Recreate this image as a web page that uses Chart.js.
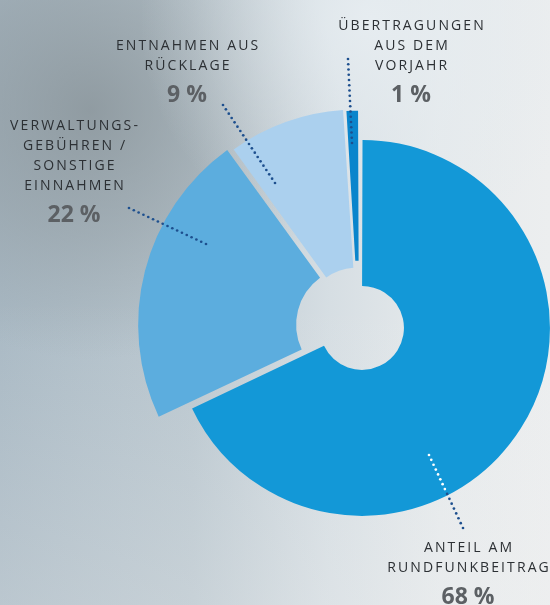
<!DOCTYPE html>
<html><head><meta charset="utf-8">
<script src="https://cdn.jsdelivr.net/npm/chart.js@4"></script>
<style>html,body{margin:0;padding:0;width:550px;height:605px;overflow:hidden;background:#c8d2d8}
#wrap{position:relative;width:550px;height:605px}</style>
</head><body><div id="wrap"><canvas id="c" width="550" height="605"></canvas></div>
<script>
// ---- data ----
const categories = ['Anteil am Rundfunkbeitrag', 'Verwaltungsgebühren / sonstige Einnahmen', 'Entnahmen aus Rücklage', 'Übertragungen aus dem Vorjahr'];
const shares = [68, 22, 9, 1];
const labelLines = [
  ['ANTEIL AM', 'RUNDFUNKBEITRAG'],
  ['VERWALTUNGS-', 'GEBÜHREN /', 'SONSTIGE', 'EINNAHMEN'],
  ['ENTNAHMEN AUS', 'RÜCKLAGE'],
  ['ÜBERTRAGUNGEN', 'AUS DEM', 'VORJAHR']
];
const percentLabels = shares.map(v => v + ' %');

// ---- styles / layout ----
const sliceColors = ['#1398d7', '#5cadde', '#abd0ee', '#0a85cc'];
const sliceOffsets = [14, 20, 27, 21];
const sliceOuter = [188, 216, 210, 210];
const sliceInner = [42, 58, 52, 60];
const labelLayout = [
  {x: 468, y: 547, pctY: 596},
  {x: 74, y: 125, pctY: 213.5},
  {x: 187, y: 45, pctY: 94},
  {x: 411, y: 25, pctY: 94}
];
const leaderLines = [
  [[429, 455], [463, 528]],
  [[129, 208], [206, 244]],
  [[223, 105], [275, 183]],
  [[348, 59], [352, 143]]
];

const bgPlugin = {
  id: 'bg',
  beforeDraw(chart) {
    const ctx = chart.ctx, w = chart.width, h = chart.height;
    ctx.save();
    let g = ctx.createLinearGradient(0, 0, w, 0);
    g.addColorStop(0, '#a9b9c4');
    g.addColorStop(0.35, '#bac7cf');
    g.addColorStop(0.6, '#d6dee3');
    g.addColorStop(0.8, '#e6eaec');
    g.addColorStop(1, '#eceeef');
    ctx.fillStyle = g; ctx.fillRect(0, 0, w, h);
    // dark top-left shade
    let r = ctx.createRadialGradient(90, 110, 0, 90, 110, 250);
    r.addColorStop(0, 'rgba(130,140,145,0.7)');
    r.addColorStop(0.5, 'rgba(135,145,150,0.4)');
    r.addColorStop(1, 'rgba(140,150,155,0)');
    ctx.fillStyle = r; ctx.fillRect(0, 0, w, h);
    // light top-center glow
    r = ctx.createRadialGradient(370, 20, 0, 370, 20, 230);
    r.addColorStop(0, 'rgba(232,238,242,0.85)');
    r.addColorStop(1, 'rgba(225,233,238,0)');
    ctx.fillStyle = r; ctx.fillRect(0, 0, w, h);
    // light bottom-right
    g = ctx.createLinearGradient(0, 300, 0, h);
    g.addColorStop(0, 'rgba(240,240,240,0)');
    g.addColorStop(1, 'rgba(240,240,240,0.25)');
    ctx.fillStyle = g; ctx.fillRect(0, 300, w, h - 300);
    ctx.restore();
  }
};

const radiiPlugin = {
  id: 'sliceRadii',
  beforeDatasetsDraw(chart) {
    const meta = chart.getDatasetMeta(0);
    meta.data.forEach((arc, i) => {
      const o = (arc.options.offset || 0) / 4;
      const fix = 1 - Math.sin(Math.min(Math.PI, arc.circumference || 0));
      const ro = o * fix;
      const sp = (arc.options.spacing || 0) / 2;
      arc.outerRadius = sliceOuter[i] - ro - sp;
      arc.innerRadius = sliceInner[i] - ro - sp;
    });
  }
};

function spacedText(ctx, text, cx, baseY, spacing) {
  const chars = [...text];
  const widths = chars.map(ch => ctx.measureText(ch).width);
  const total = widths.reduce((a, b) => a + b, 0) + spacing * (chars.length - 1);
  let x = cx - total / 2;
  ctx.textAlign = 'left';
  ctx.textBaseline = 'alphabetic';
  chars.forEach((ch, i) => { ctx.fillText(ch, x, baseY); x += widths[i] + spacing; });
}

const labelPlugin = {
  id: 'labels',
  afterDatasetsDraw(chart) {
    const ctx = chart.ctx;
    const meta = chart.getDatasetMeta(0);
    ctx.save();
    // leader lines (dotted)
    leaderLines.forEach((ln, i) => {
      const [a, b] = ln;
      const len = Math.hypot(b[0] - a[0], b[1] - a[1]);
      const n = Math.round(len / 5.3);
      for (let k = 0; k <= n; k++) {
        const t = k / n;
        const x = a[0] + (b[0] - a[0]) * t, y = a[1] + (b[1] - a[1]) * t;
        const inside = i === 0 && meta.data[0].inRange(x, y);
        ctx.fillStyle = inside ? '#ffffff' : '#1d4f8e';
        ctx.beginPath(); ctx.arc(x, y, 1.35, 0, Math.PI * 2); ctx.fill();
      }
    });
    // category labels
    const fs = 14;
    labelLines.forEach((lines, i) => {
      const L = labelLayout[i];
      ctx.font = fs + 'px "Open Sans", "Noto Sans", sans-serif';
      ctx.fillStyle = '#2c3034';
      lines.forEach((t, j) => spacedText(ctx, t, L.x, L.y + j * 20 + 0.357 * fs, 2.1));
      ctx.font = 'bold 23px "Open Sans", "Noto Sans", sans-serif';
      ctx.fillStyle = '#5c6064';
      ctx.textAlign = 'center'; ctx.textBaseline = 'alphabetic';
      ctx.fillText(percentLabels[i], L.x, L.pctY + 0.357 * 23);
    });
    ctx.restore();
  }
};

new Chart(document.getElementById('c'), {
  type: 'doughnut',
  data: {
    labels: categories,
    datasets: [{
      data: shares,
      backgroundColor: sliceColors,
      borderWidth: 0,
      offset: sliceOffsets,
      hoverOffset: 0
    }]
  },
  options: {
    responsive: false,
    animation: false,
    events: [],
    layout: {padding: {left: 168, right: 0, top: 47, bottom: 0}},
    radius: 200,
    cutout: 50,
    plugins: {legend: {display: false}, tooltip: {enabled: false}}
  },
  plugins: [bgPlugin, radiiPlugin, labelPlugin]
});
</script></body></html>
